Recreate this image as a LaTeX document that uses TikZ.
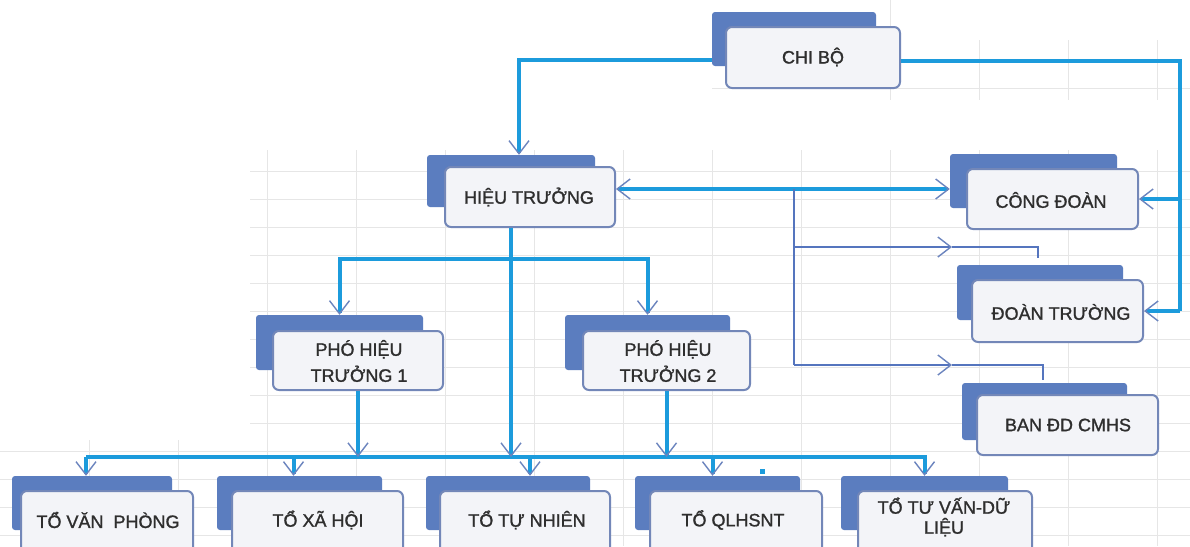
\documentclass[tikz,border=0pt]{standalone}
\usepackage{fontspec}
\setmainfont{Liberation Sans}
\newfontfamily\semib[FakeBold=1.3]{Liberation Sans}
\usetikzlibrary{arrows.meta,fit}
\definecolor{backc}{HTML}{5B7DBF}
\definecolor{edgec}{HTML}{7387B8}
\definecolor{frontc}{HTML}{F3F4F8}
\definecolor{thickc}{HTML}{1C9BDC}
\definecolor{thinc}{HTML}{5575BE}
\definecolor{arrc}{HTML}{6B84BE}
\definecolor{gridc}{HTML}{E6E6E6}
\definecolor{txtc}{HTML}{2E2E2E}
\tikzset{
  backbox/.style={fill=backc, draw=none, rounded corners=3pt, inner sep=0pt},
  frontbox/.style={fill=frontc, draw=edgec, line width=2pt, rounded corners=6pt, inner sep=0pt},
  lbl/.style={inner sep=0pt, text=txtc, font=\semib\fontsize{18}{26}\selectfont, align=center},
  bar/.style={draw=thickc, line width=4pt},
  thinbar/.style={draw=thinc, line width=2pt},
  tip/.style={-{Straight Barb[length=13pt,width=20pt,line width=1.4pt,color=arrc]}},
  tips/.style={{Straight Barb[length=13pt,width=20pt,line width=1.4pt,color=arrc]}-{Straight Barb[length=13pt,width=20pt,line width=1.4pt,color=arrc]}},
  gridline/.style={draw=gridc, line width=0.8pt},
}
\begin{document}
\begin{tikzpicture}[x=1pt,y=-1pt]
\useasboundingbox (0,0) rectangle (1190,546);
\clip (0,0) rectangle (1190,546);
\fill[white] (0,0) rectangle (1190,546);
% faint spreadsheet grid
\foreach \yy in {171,199,...,535} \draw[gridline] (250,\yy) -- (1190,\yy);
\foreach \xx in {267,356,...,1157} \draw[gridline] (\xx,150) -- (\xx,546);
\foreach \yy in {451,479,507,535} \draw[gridline] (0,\yy) -- (250,\yy);
\foreach \xx in {89,178} \draw[gridline] (\xx,440) -- (\xx,546);
\draw[gridline] (712,88) -- (1190,88);
\draw[gridline] (890,0) -- (890,100);
\foreach \xx in {979,1068,1157} \draw[gridline] (\xx,40) -- (\xx,100);

% boxes
\node[backbox, fit={(712,12) (876,66)}] (cbb) {};
\node[frontbox, fit={(726,27) (900,88)}] (cb) {};
\node[lbl] (cbt) at (813,57) {CHI BỘ};
\node[backbox, fit={(427,155) (595,207)}] (htb) {};
\node[frontbox, fit={(445,167) (615,227)}] (ht) {};
\node[lbl] (htt) at (529,197) {HIỆU TRƯỞNG};
\node[backbox, fit={(950,154) (1117,208)}] (cdb) {};
\node[frontbox, fit={(967,169) (1138,229)}] (cd) {};
\node[lbl] (cdt) at (1051,200) {CÔNG ĐOÀN};
\node[backbox, fit={(957,265) (1123,320)}] (dtb) {};
\node[frontbox, fit={(972,280) (1143,342)}] (dt) {};
\node[lbl] (dtt) at (1061,312) {ĐOÀN TRƯỜNG};
\node[backbox, fit={(962,383) (1127,440)}] (banb) {};
\node[frontbox, fit={(977,395) (1158,455)}] (ban) {};
\node[lbl] (bant) at (1068,425) {BAN ĐD CMHS};
\node[backbox, fit={(256,315) (423,370)}] (pht1b) {};
\node[frontbox, fit={(273,331) (443,390)}] (pht1) {};
\node[lbl] (pht1t) at (359,361) {PHÓ HIỆU\\TRƯỞNG 1};
\node[backbox, fit={(565,315) (730,370)}] (pht2b) {};
\node[frontbox, fit={(583,331) (750,390)}] (pht2) {};
\node[lbl] (pht2t) at (668,361) {PHÓ HIỆU\\TRƯỞNG 2};
\node[backbox, fit={(12,476) (172,530)}] (tvpb) {};
\node[frontbox, fit={(21,491) (193,560)}] (tvp) {};
\node[lbl] (tvpt) at (108,520) {TỔ VĂN\ \ PHÒNG};
\node[backbox, fit={(217,476) (382,530)}] (txhb) {};
\node[frontbox, fit={(232,491) (403,560)}] (txh) {};
\node[lbl] (txht) at (318,520) {TỔ XÃ HỘI};
\node[backbox, fit={(426,476) (590,530)}] (ttnb) {};
\node[frontbox, fit={(440,491) (610,560)}] (ttn) {};
\node[lbl] (ttnt) at (527,520) {TỔ TỰ NHIÊN};
\node[backbox, fit={(635,476) (800,530)}] (qlb) {};
\node[frontbox, fit={(650,491) (822,560)}] (ql) {};
\node[lbl] (qlt) at (733,520) {TỔ QLHSNT};
\node[backbox, fit={(841,476) (1008,530)}] (tvb) {};
\node[frontbox, fit={(858,491) (1032,560)}] (tv) {};
\node[lbl, font=\semib\fontsize{18}{20}\selectfont] (tvt) at (944,517) {TỔ TƯ VẤN-DỮ\\LIỆU};

% CHI BO connections
\draw[bar,tip] ([yshift=-21pt]cbb.west) -| ([xshift=8pt]htb.north);
\coordinate (r1) at (1180,199);
\coordinate (r2) at (1180,311);
\draw[bar] ([yshift=-3pt]cb.east) -| (r2);
\draw[bar,tip] (r1) -- (cd.east);
\draw[bar,tip] (r2) -- (dt.east);

% HIEU TRUONG <-> CONG DOAN
\draw[bar,tips] ([yshift=8pt]ht.east) -- ([yshift=-8pt]cdb.west);
\coordinate (v0) at (794,189);
\coordinate (v1) at (794,247);
\coordinate (v2) at (794,365);
\coordinate (a1) at (952,247);
\coordinate (a2) at (952,365);
\draw[thinbar] (v0) -- (v2);
\draw[thinbar,tip] (v1) -- (a1);
\draw[thinbar] (a1) -| ([xshift=-2pt,yshift=7pt]dtb.north);
\draw[thinbar,tip] (v2) -- (a2);
\draw[thinbar] (a2) -| ([xshift=-2pt,yshift=3pt]banb.north);

% bus
\coordinate (busL) at (86,457);
\coordinate (busR) at (927,457);
\draw[bar] (busL) -- (busR);

% HIEU TRUONG down
\coordinate (j) at (511,259);
\draw[bar,tip] ([xshift=-19pt]ht.south) -- ([xshift=-19pt]ht.south |- busL);
\draw[bar,tip] (j) -| (pht1b.north);
\draw[bar,tip] (j) -| (pht2b.north);
\draw[bar,tip] (pht1.south) -- (pht1.south |- busL);
\draw[bar,tip] (pht2.south) -- (pht2.south |- busL);

% bus down to groups
\draw[bar,tip] ([xshift=-6pt]tvpb.north |- busL) -- ([xshift=-6pt]tvpb.north);
\draw[bar,tip] ([xshift=-6pt]txhb.north |- busL) -- ([xshift=-6pt]txhb.north);
\draw[bar,tip] ([xshift=22pt]ttnb.north |- busL) -- ([xshift=22pt]ttnb.north);
\draw[bar,tip] ([xshift=-5pt]qlb.north |- busL) -- ([xshift=-5pt]qlb.north);
\draw[bar,tip] (tvb.north |- busL) -- (tvb.north);

% stray mark
\fill[thickc] (760,469) rectangle (765,474);
\end{tikzpicture}
\end{document}
